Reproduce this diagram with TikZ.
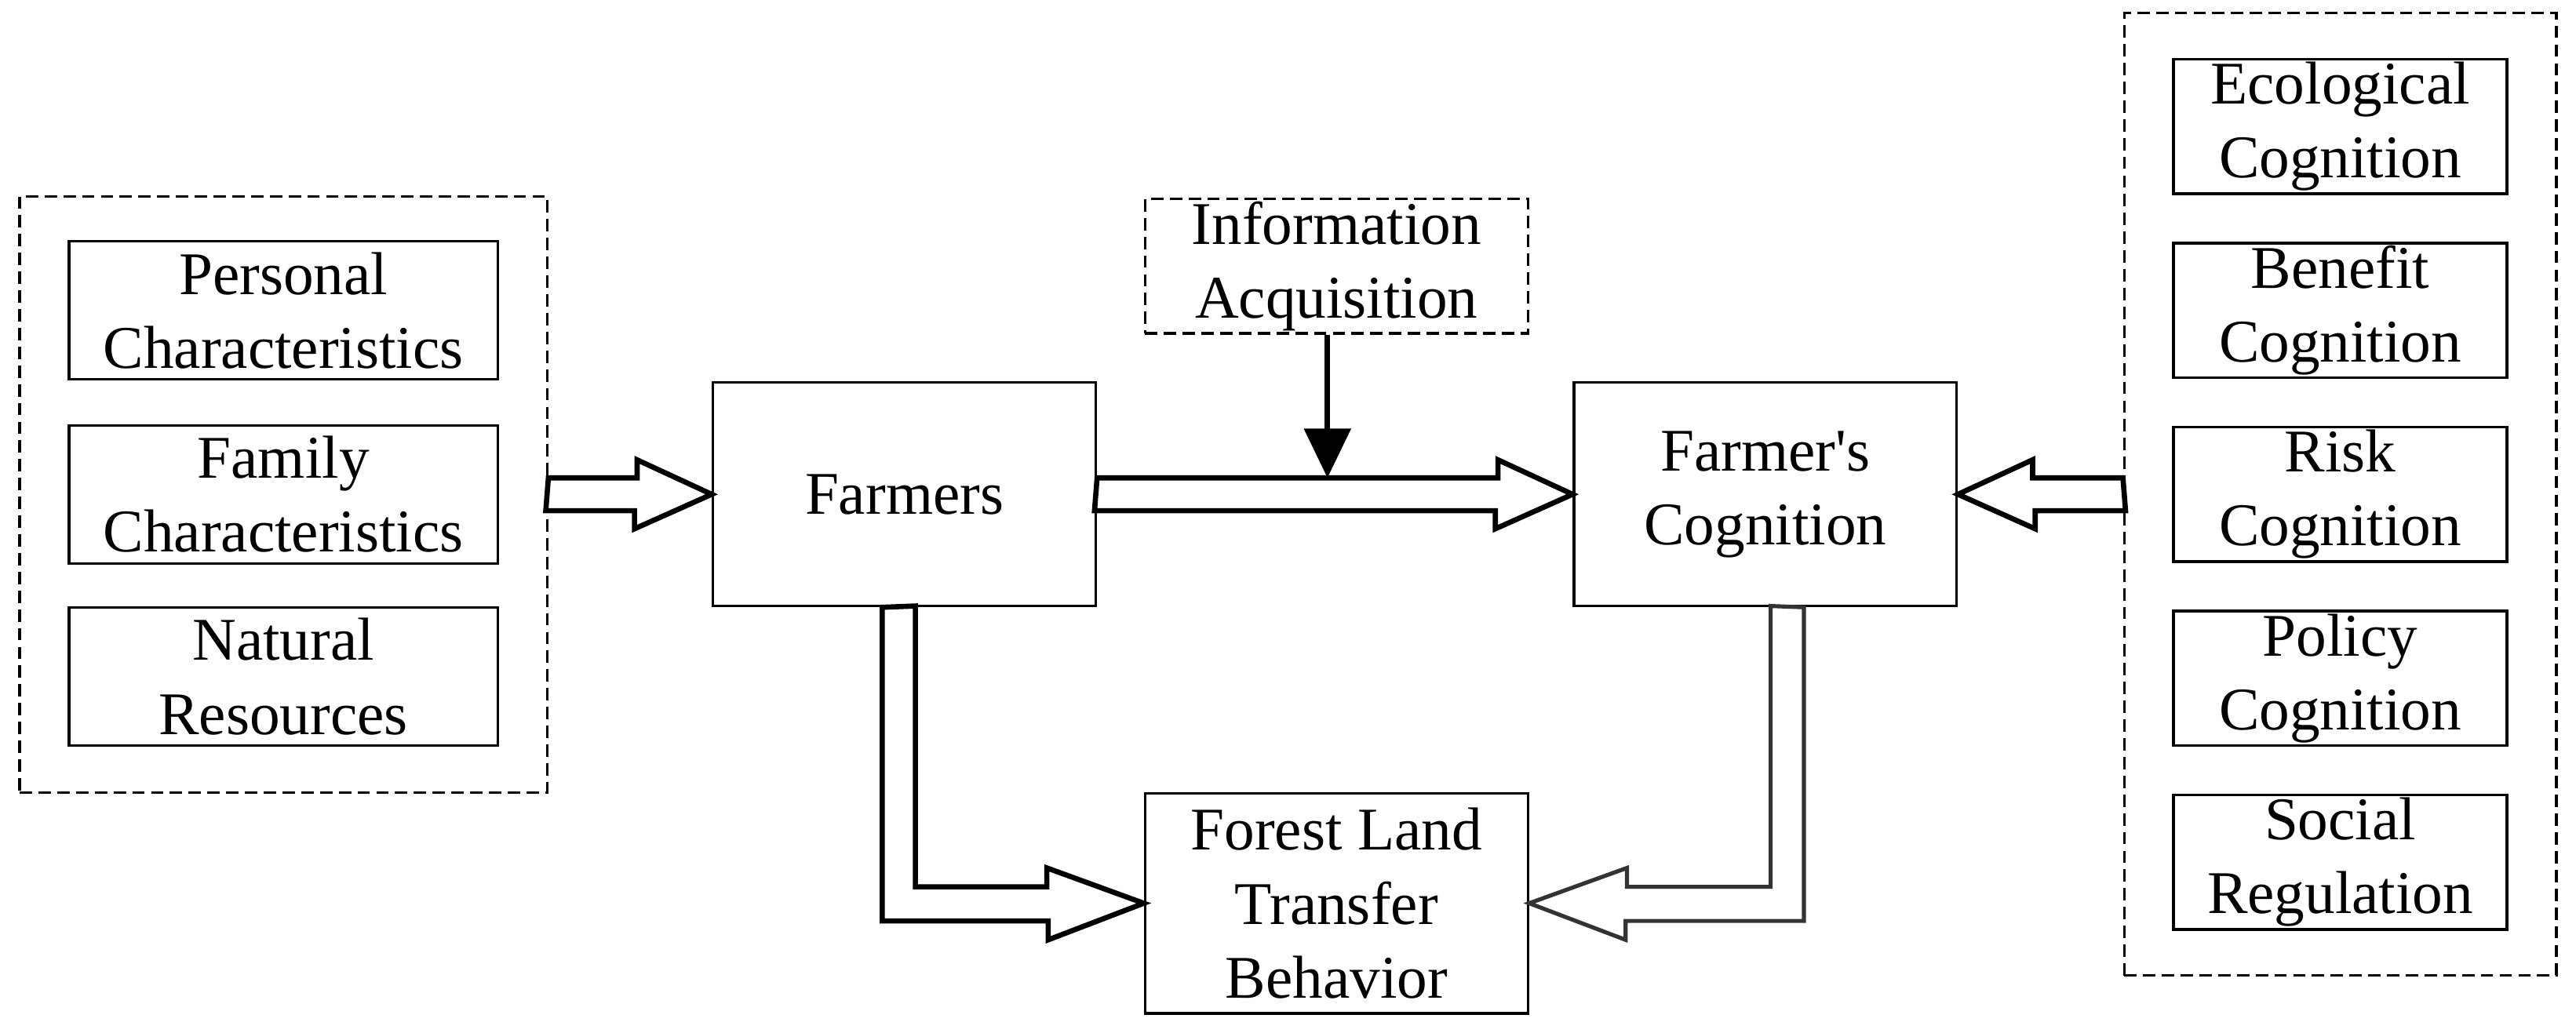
\documentclass[tikz,border=0pt]{standalone}
\usepackage{fontspec}
\setmainfont{Liberation Serif}
\usetikzlibrary{arrows.meta}
\tikzset{
  factor/.style={
           rectangle,
           draw=black, line width=0.9pt,
           minimum width=5.22cm,
           minimum height=1.68cm,
           inner sep=0pt,
           align=center,
           font=\fontsize{21}{25.6}\selectfont},
  cogfactor/.style={
           factor,
           minimum width=4.06cm,
           minimum height=1.64cm},
  mainbox/.style={
           factor,
           minimum width=4.66cm,
           minimum height=2.72cm},
  group/.style={
           rectangle,
           draw=black, line width=0.9pt,
           dash pattern=on 4.3pt off 2.2pt,
           inner sep=0pt},
  infobox/.style={
           mainbox, dash pattern=on 4.3pt off 2.2pt,
           minimum height=1.64cm},
  blockarr/.style={draw=black, line width=1.8pt, line join=miter, fill=white},
  blockarrg/.style={draw=black!80, line width=1.4pt, line join=miter, fill=white},
  infoarr/.style={draw=black, line width=1.9pt,
           -{Triangle[width=0.56cm,length=0.6cm]}}
}

\begin{document}
\begin{tikzpicture}
      \useasboundingbox (0,0) rectangle (31.36,12.58);
      % left group
      \node[group,minimum width=6.42cm,minimum height=7.26cm] (lgroup) at (3.45,6.56) {};
      \node[factor] (personal) at (3.45,8.80) {Personal\\Characteristics};
      \node[factor] (family) at (3.45,6.56) {Family\\Characteristics};
      \node[factor] (natural) at (3.45,4.34) {Natural\\Resources};
      % right group
      \node[group,minimum width=5.26cm,minimum height=11.72cm] (rgroup) at (28.49,6.56) {};
      \node[cogfactor] (ecological) at (28.49,11.04) {Ecological\\Cognition};
      \node[cogfactor] (benefit) at (28.49,8.80) {Benefit\\Cognition};
      \node[cogfactor] (risk) at (28.49,6.56) {Risk\\Cognition};
      \node[cogfactor] (policy) at (28.49,4.32) {Policy\\Cognition};
      \node[cogfactor] (social) at (28.49,2.08) {Social\\Regulation};
      % middle
      \node[mainbox] (farmers) at (11.01,6.56) {Farmers};
      \node[mainbox] (cognition) at (21.49,6.56) {Farmer\textquotesingle s\\Cognition};
      \node[infobox] (info) at (16.27,9.34) {Information\\Acquisition};
      \node[mainbox,minimum height=2.68cm] (forest) at (16.27,1.58) {Forest Land\\Transfer\\Behavior};
      \coordinate (hit) at (16.16,6.76);
      % block arrows
      \draw[blockarr] (lgroup.east) ++(0,0.2) -- ++(1.08,0) -- ++(0,0.22) -- (farmers.west)
            -- ++(-0.94,-0.42) -- ++(0,0.22) -- ++(-1.08,0) -- cycle;
      \draw[blockarr] (farmers.east) ++(0,0.2) -- ++(4.88,0) -- ++(0,0.22) -- (cognition.west)
            -- ++(-0.94,-0.42) -- ++(0,0.22) -- ++(-4.88,0) -- cycle;
      \draw[blockarr] (rgroup.west) ++(0,0.2) -- ++(-1.10,0) -- ++(0,0.22) -- (cognition.east)
            -- ++(0.94,-0.42) -- ++(0,0.22) -- ++(1.10,0) -- cycle;
      \draw[blockarr] (farmers.south) ++(-0.27,0) |- ++(2.02,-3.82) -- ++(0,-0.23) -- (forest.west)
            -- ++(-1.18,0.43) -- ++(0,-0.23) -| ++(-1.6,3.42) -- cycle;
      \draw[blockarrg] (cognition.south) ++(0.47,0) |- ++(-2.17,-3.82) -- ++(0,-0.23) -- (forest.east)
            -- ++(1.19,0.43) -- ++(0,-0.23) -| ++(1.75,3.42) -- cycle;
      \draw[infoarr] (hit |- info.south) -- (hit);
\end{tikzpicture}
\end{document}
